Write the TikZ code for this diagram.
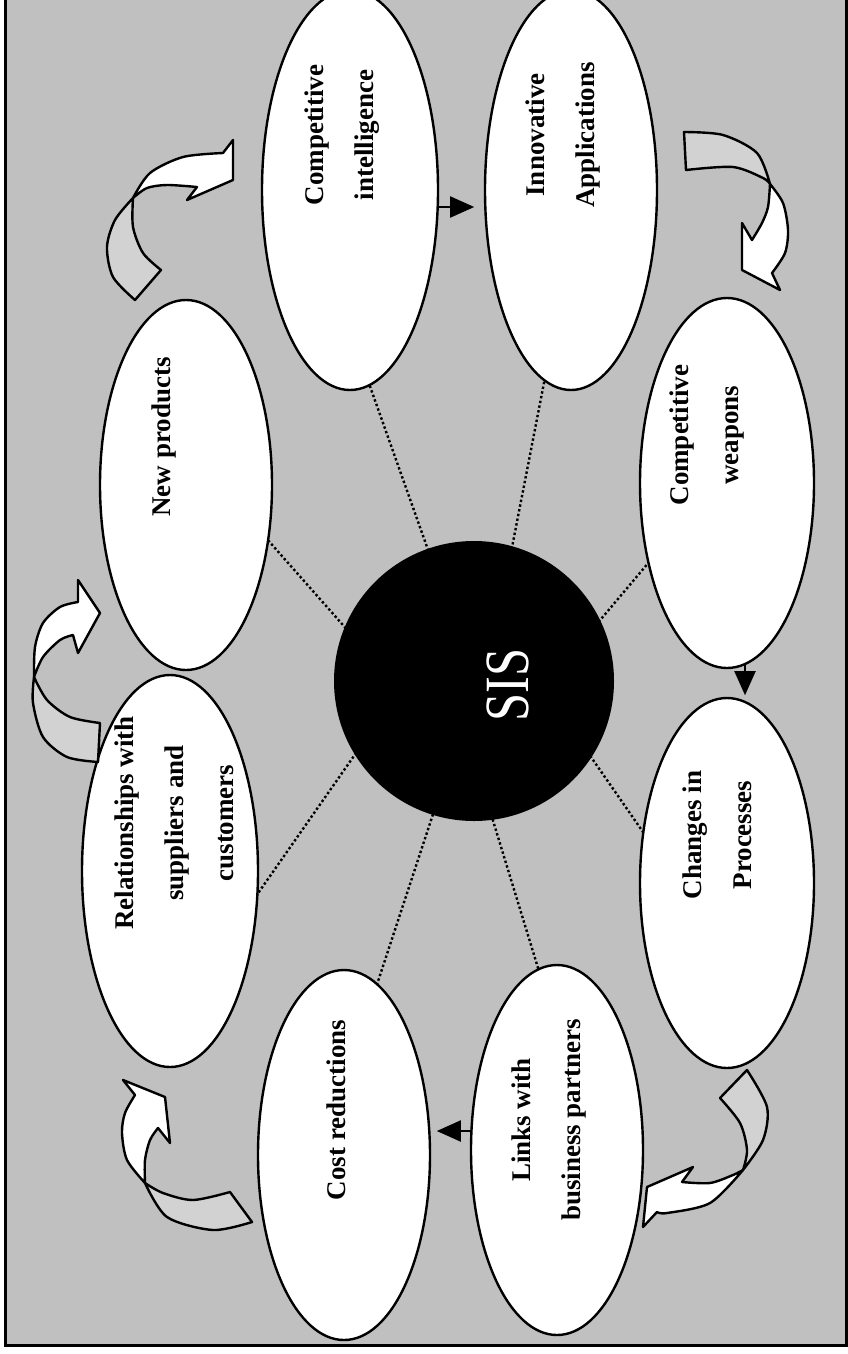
\documentclass[tikz,border=0pt]{standalone}
\usepackage{fontspec}
\setmainfont{Liberation Serif}
\usetikzlibrary{shapes.geometric,arrows.meta}

\definecolor{panel}{RGB}{192,192,192}
\definecolor{backside}{RGB}{210,210,210}

\tikzset{
  x=1pt, y=-1pt,
  bubble/.style={ellipse, draw=black, line width=2.4pt, fill=white, inner sep=0pt},
  caption/.style={rotate=90, align=center, inner sep=0pt,
    font=\fontsize{27}{50}\selectfont\bfseries},
  hub/.style={circle, fill=black, inner sep=0pt, minimum size=280pt},
  hubtext/.style={rotate=90, text=white, inner sep=0pt,
    font=\fontsize{63}{63}\selectfont},
  spoke/.style={line width=2.4pt, dash pattern=on 2.4pt off 2.4pt},
  link/.style={line width=2pt, -{Triangle[length=24pt,width=21pt]}},
  band/.style={line width=2.4pt, line join=round, draw=black},
  front/.style={band, fill=white},
  back/.style={band, fill=backside},
}

\begin{document}
\begin{tikzpicture}
\useasboundingbox (0,0) rectangle (848,1354);
% panel
\filldraw[fill=panel, draw=black, line width=3pt] (5.5,-20) rectangle (846,1345.5);

% spoke ends: one end under the hub, the other under a bubble
\coordinate (ci-a)  at (438,578);  \coordinate (ci-b)  at (361,361);
\coordinate (ia-a)  at (508,568);  \coordinate (ia-b)  at (550,352);
\coordinate (np-a)  at (365,650);  \coordinate (np-b)  at (259,530);
\coordinate (cw-a)  at (580,644);  \coordinate (cw-b)  at (671,536);
\coordinate (rel-a) at (370,733);  \coordinate (rel-b) at (247,909);
\coordinate (cp-a)  at (582,744);  \coordinate (cp-b)  at (652,845);
\coordinate (cr-a)  at (439,796);  \coordinate (cr-b)  at (361,1033);
\coordinate (lb-a)  at (487,801);  \coordinate (lb-b)  at (560,1040);
\foreach \n in {ci,ia,np,cw,rel,cp,cr,lb}
  \draw[spoke] (\n-a) -- (\n-b);

% bubbles (width = horizontal extent, height = vertical extent)
\node[bubble, minimum width=176pt, minimum height=400pt] (ci)  at (350,190) {};
\node[bubble, minimum width=172pt, minimum height=400pt] (ia)  at (571,190) {};
\node[bubble, minimum width=172pt, minimum height=370pt] (np)  at (186,485) {};
\node[bubble, minimum width=174pt, minimum height=370pt] (cw)  at (727,483) {};
\node[bubble, minimum width=176pt, minimum height=392pt] (rel) at (170,871) {};
\node[bubble, minimum width=174pt, minimum height=370pt] (cp)  at (727,883) {};
\node[bubble, minimum width=172pt, minimum height=370pt] (cr)  at (344,1155) {};
\node[bubble, minimum width=172pt, minimum height=370pt] (lb)  at (557,1150) {};

% captions
\node[caption] (ci-t)  at ([xshift=-8pt,yshift=55pt]ci.center) {Competitive\\intelligence};
\node[caption] (ia-t)  at ([xshift=-8pt,yshift=55pt]ia.center) {Innovative\\Applications};
\node[caption] (np-t)  at ([xshift=-22pt,yshift=48pt]np.center) {New products};
\node[caption] (cw-t)  at ([xshift=-20pt,yshift=48pt]cw.center) {Competitive\\weapons};
\node[caption] (rel-t) at ([xshift=4pt,yshift=48pt]rel.center) {Relationships with\\suppliers and\\customers};
\node[caption] (cp-t)  at ([xshift=-10pt,yshift=48pt]cp.center) {Changes in\\Processes};
\node[caption] (cr-t)  at ([xshift=-8pt,yshift=45pt]cr.center) {Cost reductions};
\node[caption] (lb-t)  at ([xshift=-8pt,yshift=30pt]lb.center) {Links with\\business partners};

% hub
\node[hub] (sis) at (474,681) {};
\node[hubtext] (sis-t) at ([xshift=34pt,yshift=-4pt]sis.center) {\scalebox{0.8}[1]{SIS}};

% straight links between neighbouring bubbles
\draw[link] ([yshift=-17pt]ci.east) -- ++(35,0);
\draw[link] (cw.south) ++(18,-4) -- ++(0,30);
\draw[link] ([yshift=19pt]lb.west) ++(1,0) -- ++(-34,0);

% curved arrow, upper left
\path[back] (135,300) -- plot[smooth] coordinates {(135,300) (113,277) (107,247) (115,220) (133,198)}
  -- plot[smooth] coordinates {(133,198) (133,227) (143,253) (161,270)} -- cycle;
\path[front] (133,198) -- plot[smooth] coordinates {(133,198) (150,173) (183,157) (223,153)}
  -- (233,140) -- (233,180) -- (187,200) -- (197,187)
  -- plot[smooth] coordinates {(197,187) (167,185) (147,188) (133,198)} -- cycle;

% curved arrow, upper right
\path[back] (684,132) -- plot[smooth] coordinates {(684,132) (723,135) (757,153) (770,184)}
  -- plot[smooth] coordinates {(770,184) (763,178) (733,167) (686,170)} -- cycle;
\path[front] (770,184) -- plot[smooth] coordinates {(770,184) (783,203) (788,230) (785,253) (772,273)}
  -- (780,290) -- (742,270) -- (742,223) -- (752,240)
  -- plot[smooth] coordinates {(752,240) (762,223) (768,207) (770,184)} -- cycle;

% curved arrow, lower right
\path[back] (720,1098) -- (747,1070) -- plot[smooth] coordinates {(747,1070) (767,1107) (763,1140) (743,1170)}
  -- plot[smooth] coordinates {(743,1170) (747,1150) (740,1123) (720,1098)} -- cycle;
\path[front] (743,1170) -- plot[smooth] coordinates {(743,1170) (710,1203) (667,1213) (657,1212)}
  -- (643,1227) -- (647,1187) -- (693,1167) -- (682,1182)
  -- plot[smooth] coordinates {(682,1182) (710,1183) (733,1175) (743,1170)} -- cycle;

% curved arrow, lower left
\path[back] (145,1183) -- plot[smooth] coordinates {(145,1183) (167,1217) (213,1230) (252,1222)}
  -- (230,1192) -- plot[smooth] coordinates {(230,1192) (193,1200) (163,1193) (145,1183)} -- cycle;
\path[front] (145,1183) -- plot[smooth] coordinates {(145,1183) (127,1160) (122,1133) (125,1113) (135,1095)}
  -- (123,1080) -- (165,1097) -- (170,1143) -- (158,1128)
  -- plot[smooth] coordinates {(158,1128) (150,1140) (145,1160) (145,1183)} -- cycle;

% curved arrow, left middle
\path[back] (34,677) -- plot[smooth] coordinates {(34,677) (33,703) (43,737) (67,757) (98,762)}
  -- (100,723) -- plot[smooth] coordinates {(100,723) (70,717) (47,700) (34,677)} -- cycle;
\path[front] (34,677) -- plot[smooth] coordinates {(34,677) (35,647) (43,623) (60,607) (78,602)}
  -- (78,580) -- (100,613) -- (78,653) -- (73,635)
  -- plot[smooth] coordinates {(73,635) (60,640) (43,657) (34,677)} -- cycle;
\end{tikzpicture}
\end{document}
